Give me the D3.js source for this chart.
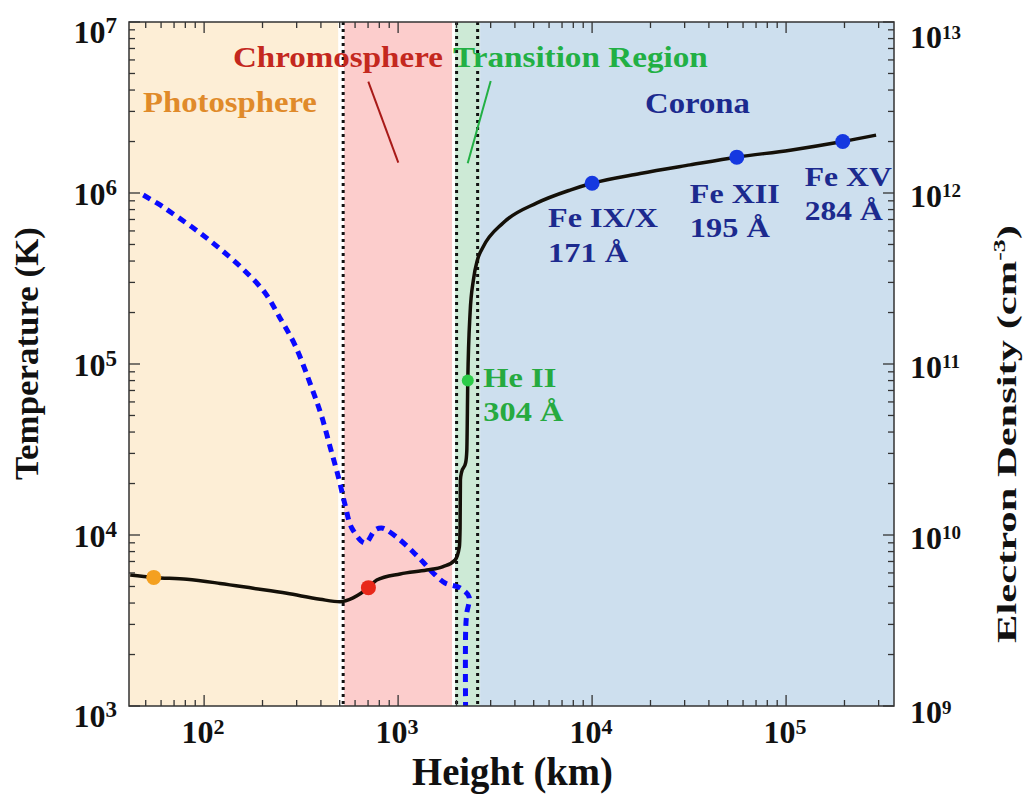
<!DOCTYPE html>
<meta charset="utf-8">
<style>
body { margin: 0; background: #fff; }
text { font-family: "Liberation Serif", "Tinos", "Times New Roman", "Nimbus Roman", "FreeSerif", Times, serif; font-weight: bold; }
</style>
<svg width="1023" height="805"></svg>
<script src="https://cdn.jsdelivr.net/npm/d3@7/dist/d3.min.js"></script>
<script>

// atmosphere layers (height in km)
var regionNames = ["Photosphere", "Chromosphere", "Transition Region", "Corona"];
var regionFrom = [41, 527, 1967, 2647];
var regionTo = [491, 1897, 2647, 360000];
var boundaryHeights = [521, 2002, 2570];

// temperature profile
var tempHeight = [41.6, 54.8, 81.5, 121, 179, 267, 396, 502, 586, 703, 776, 1025, 1406, 1706, 1967,
  2070, 2087, 2095, 2120, 2230, 2260, 2287, 2350, 2444, 2564, 2742, 3475, 5200, 7700, 10000,
  17700, 32000, 55700, 105000, 196000, 291000];
var tempValue = [5830, 5650, 5510, 5210, 4880, 4560, 4210, 4070, 4290, 4920, 5460, 5920, 6240, 6530, 7140,
  8550, 11000, 21000, 23100, 26500, 31000, 80000, 199000, 310000, 406000, 483000, 668000, 875000, 1.04e6, 1.14e6,
  1.30e6, 1.46e6, 1.62e6, 1.78e6, 2.0e6, 2.18e6];

// electron density profile
var densHeight = [48.6, 59.3, 68.2, 91.7, 121, 159, 206, 246, 294, 359, 404, 446, 492, 533, 577,
  676, 761, 820, 874, 1024, 1195, 1344, 1515, 1746, 2087, 2322, 2260, 2230, 2230];
var densValue = [9.73e11, 8.51e11, 7.64e11, 6.03e11, 4.71e11, 3.58e11, 2.61e11, 1.86e11, 1.29e11, 7.24e10, 4.92e10, 3.28e10, 2.19e10, 1.50e10, 1.10e10,
  8.97e9, 1.07e10, 1.10e10, 1.07e10, 9.35e9, 7.96e9, 6.95e9, 6.0e9, 5.24e9, 4.9e9, 4.34e9, 3.5e9, 2.78e9, 8e8];

// emission lines on the temperature curve
var lineIon = ["", "", "He II", "Fe IX/X", "Fe XII", "Fe XV"];
var lineWave = ["", "", "304 Å", "171 Å", "195 Å", "284 Å"];
var lineHeight = [55, 703, 2287, 10000, 55700, 196000];
var lineTemp = [5650, 4920, 80000, 1.14e6, 1.62e6, 2.0e6];

var heightTicks = [1e2, 1e3, 1e4, 1e5];
var tempTicks = [1e3, 1e4, 1e5, 1e6, 1e7];
var densTicks = [1e9, 1e10, 1e11, 1e12, 1e13];

var svg = d3.select("svg");
var L = 129, R = 894, T = 22, B = 706;

var x = d3.scaleLog().domain([41, 360000]).range([L, R]);
var yT = d3.scaleLog().domain([1e3, 1e7]).range([B, T]);
var yN = d3.scaleLog().domain([1e9, 1e13]).range([B, T]);

var bandColor = ["#fdeed6", "#fccdcc", "#cdead6", "#cddfee"];
var labelColor = ["#e08a2a", "#c4281e", "#22b044", "#1c2a8e"];
var dotColor = ["#f4a020", "#e8281a", "#2ccc48", "#1538e0", "#1538e0", "#1538e0"];

svg.append("clipPath").attr("id", "clip")
  .append("rect").attr("x", L).attr("y", T).attr("width", R - L).attr("height", B - T);

var plot = svg.append("g").attr("clip-path", "url(#clip)");

plot.selectAll("rect.band")
  .data(regionNames)
  .enter().append("rect")
    .attr("class", "band")
    .attr("x", function(d, i) { return x(regionFrom[i]); })
    .attr("width", function(d, i) { return x(regionTo[i]) - x(regionFrom[i]); })
    .attr("y", T)
    .attr("height", B - T)
    .attr("fill", function(d, i) { return bandColor[i]; });

plot.selectAll("line.bound")
  .data(boundaryHeights)
  .enter().append("line")
    .attr("x1", function(d) { return x(d); })
    .attr("x2", function(d) { return x(d); })
    .attr("y1", T).attr("y2", B)
    .attr("stroke", "#111")
    .attr("stroke-width", 3)
    .attr("stroke-dasharray", "3,4");

var densLine = d3.line()
  .x(function(d, i) { return x(densHeight[i]); })
  .y(function(d, i) { return yN(densValue[i]); })
  .curve(d3.curveCatmullRom.alpha(0.5));

plot.append("path")
  .attr("d", densLine(densHeight))
  .attr("fill", "none")
  .attr("stroke", "#0a0aff")
  .attr("stroke-width", 5)
  .attr("stroke-dasharray", "8,6");

var tempLine = d3.line()
  .x(function(d, i) { return x(tempHeight[i]); })
  .y(function(d, i) { return yT(tempValue[i]); })
  .curve(d3.curveMonotoneX);

plot.append("path")
  .attr("d", tempLine(tempHeight))
  .attr("fill", "none")
  .attr("stroke", "#141008")
  .attr("stroke-width", 3.5);

plot.selectAll("circle")
  .data(lineHeight)
  .enter().append("circle")
    .attr("cx", function(d) { return x(d); })
    .attr("cy", function(d, i) { return yT(lineTemp[i]); })
    .attr("r", function(d, i) { return i == 2 ? 6 : 7.5; })
    .attr("fill", function(d, i) { return dotColor[i]; });

// frame and inward ticks
svg.append("rect")
  .attr("x", L).attr("y", T).attr("width", R - L).attr("height", B - T)
  .attr("fill", "none").attr("stroke", "#333").attr("stroke-width", 1.5);

function isMajor(v) { return Math.abs(Math.log10(v) - Math.round(Math.log10(v))) < 1e-6; }

var ticks = svg.append("g").attr("stroke", "#333").attr("stroke-width", 1.3);
x.ticks().forEach(function(v) {
  var len = isMajor(v) ? 11 : 6, px = x(v);
  ticks.append("line").attr("x1", px).attr("x2", px).attr("y1", B).attr("y2", B - len);
  ticks.append("line").attr("x1", px).attr("x2", px).attr("y1", T).attr("y2", T + len);
});
yT.ticks().forEach(function(v) {
  var len = isMajor(v) ? 11 : 6, py = yT(v);
  ticks.append("line").attr("x1", L).attr("x2", L + len).attr("y1", py).attr("y2", py);
});
yN.ticks().forEach(function(v) {
  var len = isMajor(v) ? 11 : 6, py = yN(v);
  ticks.append("line").attr("x1", R).attr("x2", R - len).attr("y1", py).attr("y2", py);
});

// stretch a text horizontally to a measured width
function fit(t, w) {
  var cur = t.node().getComputedTextLength();
  t.attr("transform", "scale(" + (w / cur) + ",1)");
}

function power(g, px, py, v, anchor, size, supSize, rise) {
  var t = g.append("text").attr("x", px).attr("y", py).attr("text-anchor", anchor)
    .attr("font-size", size).attr("fill", "#111");
  t.append("tspan").text("10");
  t.append("tspan").attr("font-size", supSize).attr("dy", -rise).text(Math.round(Math.log10(v)));
}

var labels = svg.append("g");
heightTicks.forEach(function(v) { power(labels, x(v) - 1, 743, v, "middle", 32, 22, 9); });
tempTicks.forEach(function(v, i) {
  var off = (i == 0 || i == tempTicks.length - 1) ? 20.5 : 11.5;
  power(labels, 117, yT(v) + off, v, "end", 32, 23, 10);
});
densTicks.forEach(function(v, i) {
  var off = i == densTicks.length - 1 ? 26 : (i == 0 ? 17 : 13.5);
  power(labels, 910, yN(v) + off, v, "start", 32, 19, 9.5);
});

// axis titles
var g1 = svg.append("g").attr("transform", "translate(512.5,785)");
fit(g1.append("text").attr("text-anchor", "middle").attr("font-size", 39).attr("fill", "#111").text("Height (km)"), 201);

var g2 = svg.append("g").attr("transform", "translate(37.5,353.5) rotate(-90)");
fit(g2.append("text").attr("text-anchor", "middle").attr("font-size", 33).attr("fill", "#111").text("Temperature (K)"), 253);

var g3 = svg.append("g").attr("transform", "translate(1016,434) rotate(-90)");
var t3 = g3.append("text").attr("text-anchor", "middle").attr("font-size", 28).attr("fill", "#111");
t3.append("tspan").text("Electron Density (cm");
t3.append("tspan").attr("font-size", 17).attr("dy", -11).text("-3");
t3.append("tspan").attr("dy", 11).text(")");
fit(t3, 418);

// layer names
var regionX = [143, 233, 453, 645], regionY = [112, 67, 67, 113], regionW = [174, 210, 255, 105];
regionNames.forEach(function(name, i) {
  var g = svg.append("g").attr("transform", "translate(" + regionX[i] + "," + regionY[i] + ")");
  fit(g.append("text").attr("font-size", 30).attr("fill", labelColor[i]).text(name), regionW[i]);
});

// pointer strokes
svg.append("line").attr("x1", 368.3).attr("y1", 81.7).attr("x2", 398.3).attr("y2", 162.7)
  .attr("stroke", "#a81a18").attr("stroke-width", 2);
svg.append("line").attr("x1", 490.7).attr("y1", 81).attr("x2", 467.7).attr("y2", 163.3)
  .attr("stroke", "#22b044").attr("stroke-width", 2);

// emission line labels
var lblDx = [0, 0, 15.5, -44, -47, -38], lblDy = [0, 0, 6.5, 44, 46, 44.5], lblGap = [0, 0, 33.5, 35, 33.5, 34];
var ionW = [0, 0, 73, 110, 90, 87], waveW = [0, 0, 80, 80, 80, 78];
lineIon.forEach(function(ion, i) {
  if (!ion) return;
  var px = x(lineHeight[i]) + lblDx[i], py = yT(lineTemp[i]) + lblDy[i];
  var col = i == 2 ? "#26aa40" : "#1c2a8e";
  var ga = svg.append("g").attr("transform", "translate(" + px + "," + py + ")");
  fit(ga.append("text").attr("font-size", 28).attr("fill", col).text(ion), ionW[i]);
  var gb = svg.append("g").attr("transform", "translate(" + px + "," + (py + lblGap[i]) + ")");
  fit(gb.append("text").attr("font-size", 28).attr("fill", col).text(lineWave[i]), waveW[i]);
});

</script>
